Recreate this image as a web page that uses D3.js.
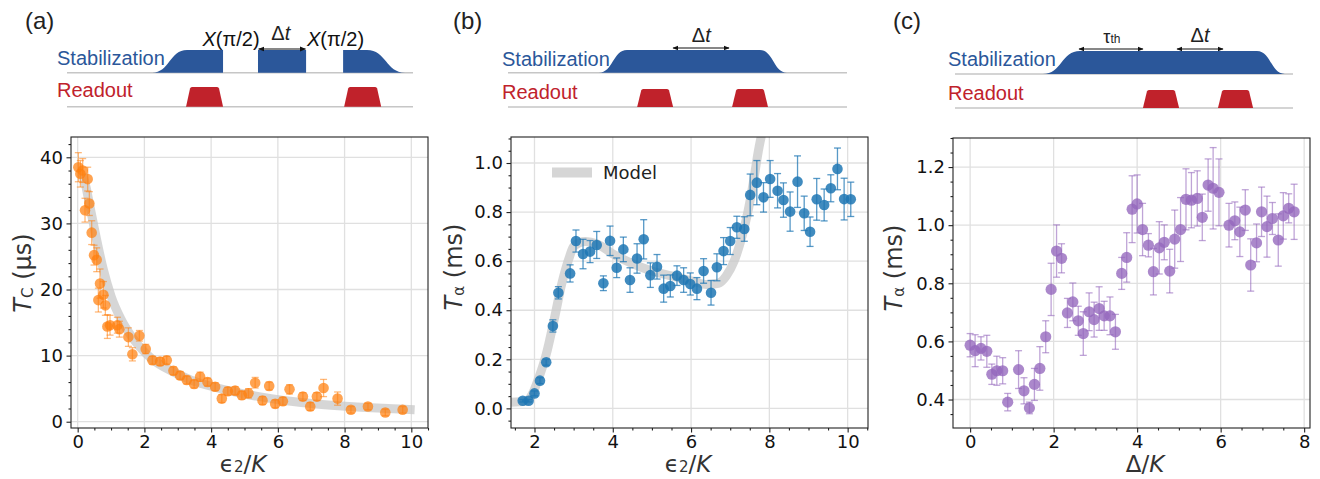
<!DOCTYPE html>
<html><head><meta charset="utf-8">
<script src="https://cdn.jsdelivr.net/npm/d3@7"></script>
<style>body{margin:0;background:#fff} svg{display:block}</style>
</head><body><svg id="c" width="1320" height="479"></svg>
<script>
// ---------- Panel (a) data ----------
const aX = [0.02,0.08,0.15,0.22,0.3,0.35,0.42,0.49,0.57,0.62,0.67,0.77,0.83,0.89,0.97,1.19,1.25,1.52,1.64,1.85,2.04,2.24,2.47,2.67,2.87,3.07,3.27,3.49,3.67,3.89,4.12,4.32,4.5,4.72,4.92,5.12,5.32,5.54,5.74,5.92,6.15,6.35,6.75,6.97,7.17,7.37,7.79,8.19,8.7,9.22,9.74];
const aY = [38.5,37.5,38.0,32.0,36.7,33.0,28.6,25.2,24.5,18.4,20.9,19.2,17.6,14.4,14.6,14.6,14.0,12.8,10.2,13.0,11.0,9.3,9.1,9.3,7.7,7.0,6.3,5.7,6.8,6.0,5.3,3.5,4.6,4.7,4.0,4.3,5.9,3.2,5.4,2.7,3.1,4.9,3.8,2.3,3.8,5.1,3.5,1.8,2.3,1.4,1.8];
const aErr = [2.2,2.0,1.8,1.8,1.8,1.8,1.8,1.5,1.8,1.8,2.2,2.0,1.5,1.8,1.5,1.2,1.2,1.4,1.0,0.8,0.7,0.6,0.6,0.6,0.6,0.6,0.6,0.6,0.7,0.6,0.6,0.6,0.6,0.6,0.6,0.7,0.8,0.6,0.6,0.6,0.6,0.7,0.6,0.6,0.6,1.3,1.0,0.5,0.5,0.5,0.5];
const aModelX = [0.15,0.25,0.35,0.45,0.57,0.77,1.0,1.3,1.6,2.2,2.8,3.4,4.2,4.9,5.8,6.7,7.6,8.5,9.3,10.1];
const aModelY = [37.5,35.5,33,30.5,27.5,23,19,15.5,13,9.6,7.7,6.3,5.1,4.3,3.5,2.9,2.5,2.2,2.0,1.8];
const aXTicks = [0,2,4,6,8,10];
const aYTicks = [0,10,20,30,40];

// ---------- Panel (b) data ----------
const bX = [1.70,1.85,2.0,2.14,2.30,2.47,2.61,2.91,3.06,3.24,3.42,3.59,3.76,3.93,4.10,4.27,4.44,4.62,4.79,4.96,5.13,5.30,5.47,5.64,5.81,5.98,6.15,6.32,6.51,6.66,6.83,7.0,7.17,7.36,7.51,7.68,7.85,8.02,8.21,8.36,8.53,8.72,8.89,9.04,9.21,9.40,9.57,9.74,9.91,10.08];
const bY = [0.031,0.031,0.061,0.113,0.188,0.336,0.471,0.550,0.682,0.629,0.639,0.666,0.510,0.683,0.573,0.648,0.523,0.611,0.689,0.543,0.577,0.488,0.499,0.541,0.523,0.507,0.488,0.560,0.471,0.575,0.641,0.682,0.738,0.731,0.870,0.920,0.860,0.935,0.887,0.849,0.802,0.924,0.795,0.720,0.852,0.829,0.897,0.976,0.853,0.852];
const bErr = [0.005,0.005,0.01,0.012,0.012,0.025,0.025,0.035,0.045,0.06,0.045,0.055,0.03,0.06,0.04,0.05,0.05,0.06,0.08,0.05,0.05,0.055,0.045,0.04,0.05,0.045,0.045,0.05,0.05,0.055,0.055,0.055,0.045,0.05,0.085,0.09,0.06,0.075,0.07,0.07,0.08,0.105,0.07,0.06,0.085,0.065,0.055,0.085,0.085,0.07];
const bModelX = [1.4,1.8,1.95,2.1,2.3,2.5,2.7,2.9,3.0,3.3,3.6,4.0,4.5,5.0,5.5,6.0,6.4,6.7,6.9,7.1,7.3,7.45,7.6,7.72,7.85];
const bModelY = [0.025,0.03,0.06,0.12,0.22,0.36,0.51,0.62,0.66,0.68,0.67,0.63,0.59,0.56,0.54,0.52,0.505,0.51,0.54,0.6,0.7,0.8,0.93,1.05,1.15];
const bXTicks = [2,4,6,8,10];
const bYTicks = [0,0.2,0.4,0.6,0.8,1.0];

// ---------- Panel (c) data ----------
const cX = [0.0,0.12,0.26,0.40,0.52,0.64,0.78,0.90,1.16,1.29,1.42,1.54,1.67,1.81,1.94,2.07,2.19,2.33,2.46,2.59,2.71,2.85,2.97,3.09,3.21,3.35,3.48,3.63,3.75,3.88,4.00,4.13,4.27,4.39,4.53,4.65,4.78,4.90,5.04,5.17,5.30,5.44,5.56,5.70,5.82,5.96,6.20,6.34,6.46,6.59,6.72,6.86,6.98,7.11,7.24,7.38,7.50,7.63,7.76];
const cY = [0.587,0.568,0.576,0.566,0.487,0.499,0.499,0.391,0.503,0.430,0.371,0.452,0.507,0.616,0.779,0.911,0.886,0.698,0.736,0.671,0.627,0.702,0.675,0.713,0.688,0.688,0.633,0.834,0.889,1.055,1.073,0.985,0.931,0.840,0.922,0.941,0.842,0.952,0.985,1.089,1.086,1.092,1.027,1.138,1.127,1.113,1.000,1.015,0.977,1.052,0.863,0.939,1.046,0.995,1.023,0.949,1.032,1.058,1.046];
const cErr = [0.04,0.055,0.04,0.055,0.035,0.05,0.045,0.03,0.065,0.045,0.02,0.055,0.075,0.055,0.09,0.09,0.05,0.05,0.065,0.05,0.075,0.065,0.06,0.075,0.05,0.065,0.06,0.055,0.085,0.115,0.1,0.09,0.04,0.08,0.09,0.06,0.075,0.1,0.11,0.105,0.095,0.095,0.08,0.09,0.14,0.115,0.075,0.065,0.085,0.07,0.09,0.065,0.085,0.105,0.055,0.09,0.08,0.05,0.095];
const cXTicks = [0,2,4,6,8];
const cYTicks = [0.4,0.6,0.8,1.0,1.2];

// ---------- Schematic timings (0-100 timeline units) ----------
const aStab = [[24.6,34.7,45.1,45.1],[55.2,55.2,69.1,69.1],[79.8,79.8,86.7,97.7]];
const aRead = [[34.4,45.1],[80.1,90.8]];
const bStab = [[26.8,35.1,74.3,82.3]];
const bRead = [[38.1,48.7],[66.1,76.7]];
const cStab = [[26.0,37.0,89.3,97.6]];
const cRead = [[55.6,66.3],[77.8,88.2]];

const svg = d3.select('#c');
const AX_FONT = "'DejaVu Sans', sans-serif";
const SC_FONT = "'Liberation Sans', Arial, sans-serif";
const BLUE = '#2b579a', RED = '#c0222b';

const defs = svg.append('defs');
defs.append('marker').attr('id','arr').attr('viewBox','0 0 10 10').attr('refX',9).attr('refY',5)
  .attr('markerWidth',5).attr('markerHeight',5).attr('orient','auto-start-reverse')
  .append('path').attr('d','M0,1 L10,5 L0,9 Z').attr('fill','#111');

function minorVals(dom, step, majors) {
  const out = [];
  const s = Math.ceil(dom[0]/step - 1e-9), e = Math.floor(dom[1]/step + 1e-9);
  for (let i = s; i <= e; i++) {
    const v = +(i*step).toFixed(6);
    if (!majors.some(m => Math.abs(m - v) < 1e-6)) out.push(v);
  }
  return out;
}

function drawPanel(p) {
  const x = d3.scaleLinear().domain(p.xDom).range([p.l, p.r]);
  const y = d3.scaleLinear().domain(p.yDom).range([p.b, p.t]);
  const g = svg.append('g');
  defs.append('clipPath').attr('id','clip'+p.id).append('rect')
    .attr('x',p.l).attr('y',p.t).attr('width',p.r-p.l).attr('height',p.b-p.t);
  // grid
  g.append('g').selectAll('line').data(p.xTicks).join('line')
    .attr('x1',d=>x(d)).attr('x2',d=>x(d)).attr('y1',p.t).attr('y2',p.b)
    .attr('stroke','#e0e0e0').attr('stroke-width',1.3);
  g.append('g').selectAll('line').data(p.yTicks).join('line')
    .attr('y1',d=>y(d)).attr('y2',d=>y(d)).attr('x1',p.l).attr('x2',p.r)
    .attr('stroke','#e0e0e0').attr('stroke-width',1.3);
  // model
  if (p.mx) {
    g.append('path').datum(d3.zip(p.mx,p.my)).attr('clip-path','url(#clip'+p.id+')')
      .attr('d', d3.line().x(d=>x(d[0])).y(d=>y(d[1])).curve(d3.curveMonotoneX))
      .attr('fill','none').attr('stroke','#c8c8c8').attr('stroke-opacity',0.75)
      .attr('stroke-width',9);
  }
  const pts = d3.zip(p.xs, p.ys, p.es);
  // markers
  g.append('g').selectAll('circle').data(pts).join('circle')
    .attr('cx',d=>x(d[0])).attr('cy',d=>y(d[1])).attr('r',p.rad)
    .attr('fill',p.color).attr('fill-opacity',p.op);
  // error bars
  const eb = g.append('g').attr('stroke',p.color).attr('stroke-opacity',p.eOp).attr('stroke-width',1.3);
  eb.selectAll('line.v').data(pts).join('line').attr('class','v')
    .attr('x1',d=>x(d[0])).attr('x2',d=>x(d[0])).attr('y1',d=>y(d[1]-d[2])).attr('y2',d=>y(d[1]+d[2]));
  eb.selectAll('line.t').data(pts).join('line').attr('class','t')
    .attr('x1',d=>x(d[0])-3.5).attr('x2',d=>x(d[0])+3.5).attr('y1',d=>y(d[1]+d[2])).attr('y2',d=>y(d[1]+d[2]));
  eb.selectAll('line.b').data(pts).join('line').attr('class','b')
    .attr('x1',d=>x(d[0])-3.5).attr('x2',d=>x(d[0])+3.5).attr('y1',d=>y(d[1]-d[2])).attr('y2',d=>y(d[1]-d[2]));
  // axes
  const style = sel => {
    sel.select('.domain').remove();
    sel.selectAll('line').attr('stroke','#222').attr('stroke-width',1.1);
    sel.selectAll('text').attr('font-family',AX_FONT).attr('font-size',18).attr('fill','#111');
  };
  g.append('g').attr('transform',`translate(0,${p.b})`)
    .call(d3.axisBottom(x).tickValues(p.xTicks).tickSize(4.5).tickPadding(3).tickFormat(p.xFmt)).call(style);
  g.append('g').attr('transform',`translate(0,${p.b})`)
    .call(d3.axisBottom(x).tickValues(minorVals(p.xDom,p.xMinor,p.xTicks)).tickSize(2.5).tickFormat('')).call(style);
  g.append('g').attr('transform',`translate(${p.l},0)`)
    .call(d3.axisLeft(y).tickValues(p.yTicks).tickSize(4.5).tickPadding(3.5).tickFormat(p.yFmt)).call(style);
  g.append('g').attr('transform',`translate(${p.l},0)`)
    .call(d3.axisLeft(y).tickValues(minorVals(p.yDom,p.yMinor,p.yTicks)).tickSize(2.5).tickFormat('')).call(style);
  g.append('rect').attr('x',p.l).attr('y',p.t).attr('width',p.r-p.l).attr('height',p.b-p.t)
    .attr('fill','none').attr('stroke','#222').attr('stroke-width',1.1);
  // y label
  const yl = g.append('text').attr('transform',`translate(${p.ylx},${p.yly}) rotate(-90)`)
    .attr('text-anchor','middle').attr('font-family',AX_FONT).attr('font-size',24).attr('fill','#333');
  yl.append('tspan').attr('font-style','italic').text('T');
  yl.append('tspan').attr('font-size',15).attr('dy',2).text(p.ysub);
  yl.append('tspan').attr('dy',-2).text(' ' + p.yunit);
  // x label
  const xl = g.append('text').attr('x',p.xlx).attr('y',p.xly).attr('text-anchor','middle')
    .attr('font-family',AX_FONT).attr('font-size',23).attr('fill','#333');
  p.xlab(xl);
  return {x, y, g};
}

function epsLabel(t) {
  t.append('tspan').text('\u03F5');
  t.append('tspan').attr('font-size',15).text('2');
  t.append('tspan').text('/');
  t.append('tspan').attr('font-style','italic').text('K');
}

drawPanel({id:'a', l:71, r:428, t:137, b:428, xDom:[-0.2,10.5], yDom:[-0.95,43.07],
  xTicks:aXTicks, yTicks:aYTicks, xMinor:0.5, yMinor:2, xFmt:d3.format('d'), yFmt:d3.format('d'),
  xs:aX, ys:aY, es:aErr, mx:aModelX, my:aModelY, color:'#ff7f0e', op:0.72, eOp:0.55, rad:5.3,
  ylx:31, yly:273, ysub:'C', yunit:'(\u03BCs)', xlx:243, xly:472, xlab:epsLabel});

const pb = drawPanel({id:'b', l:511, r:868, t:137, b:428, xDom:[1.4,10.52], yDom:[-0.08,1.106],
  xTicks:bXTicks, yTicks:bYTicks, xMinor:0.5, yMinor:0.05, xFmt:d3.format('d'), yFmt:d3.format('.1f'),
  xs:bX, ys:bY, es:bErr, mx:bModelX, my:bModelY, color:'#1f77b4', op:0.85, eOp:0.75, rad:5.3,
  ylx:462, yly:267, ysub:'\u03B1', yunit:'(ms)', xlx:688, xly:472, xlab:epsLabel});

// legend (b)
pb.g.append('line').attr('x1',552).attr('x2',592).attr('y1',172.5).attr('y2',172.5)
  .attr('stroke','#c8c8c8').attr('stroke-opacity',0.75).attr('stroke-width',10);
pb.g.append('text').attr('x',603).attr('y',179).attr('font-family',AX_FONT).attr('font-size',18)
  .attr('fill','#222').text('Model');

drawPanel({id:'c', l:953, r:1310, t:138, b:428, xDom:[-0.41,8.14], yDom:[0.302,1.30],
  xTicks:cXTicks, yTicks:cYTicks, xMinor:0.5, yMinor:0.05, xFmt:d3.format('d'), yFmt:d3.format('.1f'),
  xs:cX, ys:cY, es:cErr, color:'#9467bd', op:0.78, eOp:0.6, rad:5.6,
  ylx:902, yly:268, ysub:'\u03B1', yunit:'(ms)', xlx:1145, xly:472,
  xlab: t => { t.append('tspan').text('\u0394/'); t.append('tspan').attr('font-style','italic').text('K'); }});

// ---------- Schematics ----------
function drawSchem(s) {
  const t = d3.scaleLinear().domain([0,100]).range([s.x0, s.x1]);
  const g = svg.append('g');
  [s.sBase, s.rBase].forEach(yb => g.append('line').attr('x1',s.x0).attr('x2',s.x1)
    .attr('y1',yb).attr('y2',yb).attr('stroke','#c6c6c6').attr('stroke-width',1.5));
  g.selectAll('path.st').data(s.stab).join('path').attr('class','st')
    .attr('d', p => {
      const [a,b,c,d] = p.map(t), base = s.sBase, top = s.sTop;
      return `M${a},${base} C${(a+b)/2},${base} ${(a+b)/2},${top} ${b},${top} L${c},${top} C${(c+d)/2},${top} ${(c+d)/2},${base} ${d},${base} Z`;
    }).attr('fill', BLUE);
  g.selectAll('path.ro').data(s.read).join('path').attr('class','ro')
    .attr('d', p => {
      const [a,b] = p.map(t), base = s.rBase, top = s.rTop;
      return `M${a},${base} L${a+4},${top+1.5} Q${a+4.4},${top} ${a+6},${top} L${b-6},${top} Q${b-4.4},${top} ${b-4},${top+1.5} L${b},${base} Z`;
    }).attr('fill', RED);
  g.append('text').attr('x',s.lx).attr('y',s.sTextY).attr('font-family',SC_FONT).attr('font-size',20)
    .attr('fill',BLUE).text('Stabilization');
  g.append('text').attr('x',s.lx).attr('y',s.rTextY).attr('font-family',SC_FONT).attr('font-size',20)
    .attr('fill',RED).text('Readout');
  (s.arrows||[]).forEach(a => {
    g.append('line').attr('x1',t(a[0])).attr('x2',t(a[1])).attr('y1',a[2]).attr('y2',a[2])
      .attr('stroke','#111').attr('stroke-width',1.2).attr('marker-start','url(#arr)').attr('marker-end','url(#arr)');
  });
  g.append('text').attr('x',s.px).attr('y',29).attr('font-family',SC_FONT).attr('font-size',24)
    .attr('fill','#222').text(s.panel);
  return {t, g};
}

function dt(g, x, y) {
  const tx = g.append('text').attr('x',x).attr('y',y).attr('text-anchor','middle')
    .attr('font-family',SC_FONT).attr('font-size',20).attr('fill','#222');
  tx.append('tspan').text('\u0394');
  tx.append('tspan').attr('font-style','italic').text('t');
}
function xpi(g, x, y) {
  const tx = g.append('text').attr('x',x).attr('y',y).attr('text-anchor','middle')
    .attr('font-family',SC_FONT).attr('font-size',20).attr('fill','#111');
  tx.append('tspan').attr('font-style','italic').text('X');
  tx.append('tspan').text('(\u03C0/2)');
}

const sa = drawSchem({x0:67, x1:413, sBase:72.7, sTop:50, rBase:106.7, rTop:87, stab:aStab, read:aRead,
  lx:57, sTextY:65, rTextY:97, arrows:[[55.4,68.9,49]], px:25, panel:'(a)'});
xpi(sa.g, sa.t(47.4), 46); xpi(sa.g, sa.t(77.6), 46); dt(sa.g, sa.t(61.8), 40);

const sb = drawSchem({x0:508, x1:847, sBase:72.7, sTop:50, rBase:107, rTop:89, stab:bStab, read:bRead,
  lx:502, sTextY:66, rTextY:99, arrows:[[48.7,65.2,48]], px:453, panel:'(b)'});
dt(sb.g, sb.t(57), 42);

const sc = drawSchem({x0:955, x1:1293, sBase:74, sTop:51, rBase:108, rTop:90, stab:cStab, read:cRead,
  lx:948, sTextY:66, rTextY:100, arrows:[[36.7,55.6,49],[65.7,79.3,49]], px:893, panel:'(c)'});
dt(sc.g, sc.t(72.5), 42);
{
  const tx = sc.g.append('text').attr('x',sc.t(46.4)).attr('y',43).attr('text-anchor','middle')
    .attr('font-family',SC_FONT).attr('fill','#222');
  tx.append('tspan').attr('font-size',18).text('\u03C4');
  tx.append('tspan').attr('font-size',12).text('th');
}
</script>
</body></html>
